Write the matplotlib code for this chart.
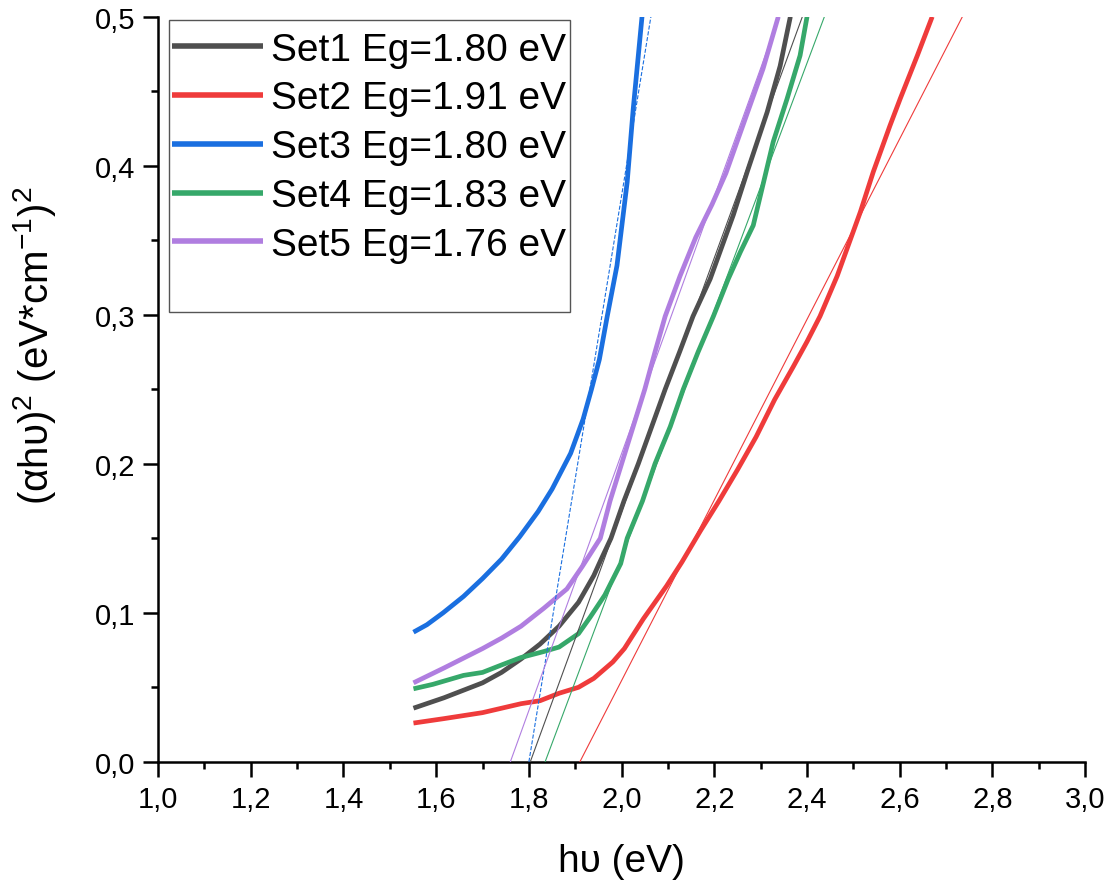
import matplotlib
matplotlib.use("Agg")
import matplotlib.pyplot as plt
from matplotlib.patches import Rectangle
from matplotlib.ticker import MultipleLocator, FuncFormatter
import numpy as np

plt.rcParams['font.family'] = ['Liberation Sans', 'DejaVu Sans']
plt.rcParams['mathtext.fontset'] = 'custom'
plt.rcParams['mathtext.rm'] = 'Liberation Sans'
plt.rcParams['mathtext.default'] = 'regular'

# curves (hv in eV, (ahv)^2)
set1_x = [1.551, 1.617, 1.700, 1.741, 1.783, 1.824, 1.865, 1.907, 1.940, 1.956, 1.977, 2.005,
          2.036, 2.065, 2.094, 2.125, 2.154, 2.191, 2.241, 2.271, 2.314, 2.342, 2.364]
set1_y = [0.036, 0.043, 0.053, 0.060, 0.069, 0.079, 0.091, 0.107, 0.125, 0.136, 0.150, 0.175,
          0.200, 0.225, 0.250, 0.275, 0.299, 0.324, 0.367, 0.396, 0.436, 0.467, 0.500]

set2_x = [1.551, 1.617, 1.700, 1.783, 1.824, 1.865, 1.907, 1.940, 1.981, 2.006, 2.047, 2.097,
          2.130, 2.170, 2.210, 2.250, 2.290, 2.330, 2.370, 2.400, 2.428, 2.465, 2.515, 2.543,
          2.579, 2.601, 2.638, 2.670]
set2_y = [0.026, 0.029, 0.033, 0.039, 0.041, 0.046, 0.050, 0.056, 0.067, 0.076, 0.096, 0.118,
          0.134, 0.155, 0.175, 0.196, 0.218, 0.243, 0.265, 0.282, 0.299, 0.326, 0.369, 0.396,
          0.427, 0.445, 0.474, 0.500]

set3_x = [1.551, 1.580, 1.615, 1.659, 1.700, 1.741, 1.780, 1.820, 1.850, 1.890, 1.917, 1.935,
          1.952, 1.969, 1.990, 2.012, 2.025, 2.044]
set3_y = [0.087, 0.092, 0.100, 0.111, 0.123, 0.136, 0.151, 0.168, 0.183, 0.207, 0.230, 0.250,
          0.270, 0.299, 0.333, 0.389, 0.438, 0.500]

set4_x = [1.551, 1.593, 1.659, 1.700, 1.741, 1.783, 1.832, 1.865, 1.907, 1.932, 1.964, 1.998,
          2.012, 2.045, 2.072, 2.105, 2.133, 2.165, 2.198, 2.230, 2.256, 2.284, 2.327, 2.357,
          2.385, 2.400]
set4_y = [0.049, 0.052, 0.058, 0.060, 0.065, 0.070, 0.074, 0.077, 0.086, 0.097, 0.112, 0.133,
          0.150, 0.175, 0.200, 0.225, 0.250, 0.275, 0.299, 0.324, 0.342, 0.360, 0.416, 0.445,
          0.474, 0.500]

set5_x = [1.551, 1.617, 1.700, 1.741, 1.783, 1.832, 1.882, 1.915, 1.954, 1.975, 2.000, 2.025,
          2.050, 2.072, 2.094, 2.126, 2.160, 2.195, 2.225, 2.249, 2.273, 2.305, 2.338]
set5_y = [0.053, 0.063, 0.076, 0.083, 0.091, 0.103, 0.116, 0.131, 0.150, 0.175, 0.200, 0.225,
          0.250, 0.275, 0.299, 0.326, 0.352, 0.374, 0.395, 0.416, 0.437, 0.465, 0.500]

labels = ['Set1 Eg=1.80 eV', 'Set2 Eg=1.91 eV', 'Set3 Eg=1.80 eV', 'Set4 Eg=1.83 eV', 'Set5 Eg=1.76 eV']
colors = ['#4f4f4f', '#ef3b3b', '#1a6fe0', '#36a86a', '#b07ee0']

# linear fits (intercept on x axis, slope)
fit_eg = [1.803, 1.91, 1.80, 1.835, 1.76]
fit_slope = [0.852, 0.606, 1.90, 0.83, 0.862]
fit_style = ['-', '-', '--', '-', '-']

fig = plt.figure(figsize=(11.13, 8.87), dpi=100)
ax = fig.add_axes([0.142, 0.140, 0.833, 0.840])

xs = [set1_x, set2_x, set3_x, set4_x, set5_x]
ys = [set1_y, set2_y, set3_y, set4_y, set5_y]

for i in range(5):
    fx = np.array([fit_eg[i], fit_eg[i] + 0.55 / fit_slope[i]])
    ax.plot(fx, fit_slope[i] * (fx - fit_eg[i]), color=colors[i], lw=0.8,
            linestyle=fit_style[i], zorder=3)

for i in range(5):
    ax.plot(xs[i], ys[i], color=colors[i], lw=3.4, label=labels[i], zorder=2,
            solid_capstyle='butt', solid_joinstyle='round')

ax.set_xlim(1.0, 3.0)
ax.set_ylim(0.0, 0.5)
ax.xaxis.set_major_locator(MultipleLocator(0.2))
ax.xaxis.set_minor_locator(MultipleLocator(0.1))
ax.yaxis.set_major_locator(MultipleLocator(0.1))
ax.yaxis.set_minor_locator(MultipleLocator(0.05))
fmt = FuncFormatter(lambda v, p: f"{v:.1f}".replace('.', ','))
ax.xaxis.set_major_formatter(fmt)
ax.yaxis.set_major_formatter(fmt)

for s in ['top', 'right']:
    ax.spines[s].set_visible(False)
for s in ['left', 'bottom']:
    ax.spines[s].set_linewidth(1.8)
ax.tick_params(which='major', direction='out', length=10.5, width=1.8, labelsize=21, pad=6)
ax.tick_params(which='minor', direction='out', length=5, width=1.8)

ax.set_xlabel('hυ (eV)', fontsize=28, labelpad=22)
ax.set_ylabel('(αhυ)$^{2}$ (eV*cm$^{-1}$)$^{2}$', fontsize=29)
ax.yaxis.set_label_coords(-0.108, 0.56)

leg = ax.legend(loc='upper left', bbox_to_anchor=(0.015, 0.980), frameon=False,
                fontsize=28, handlelength=2.35, handletextpad=0.2, labelspacing=0.33,
                borderpad=0, borderaxespad=0)
for h in leg.get_lines():
    h.set_linewidth(4)
ax.add_patch(Rectangle((0.012, 0.604), 0.432, 0.392, transform=ax.transAxes,
                       fill=False, edgecolor='#555555', lw=1.0, zorder=5))

fig.savefig('out.png', dpi=100)
